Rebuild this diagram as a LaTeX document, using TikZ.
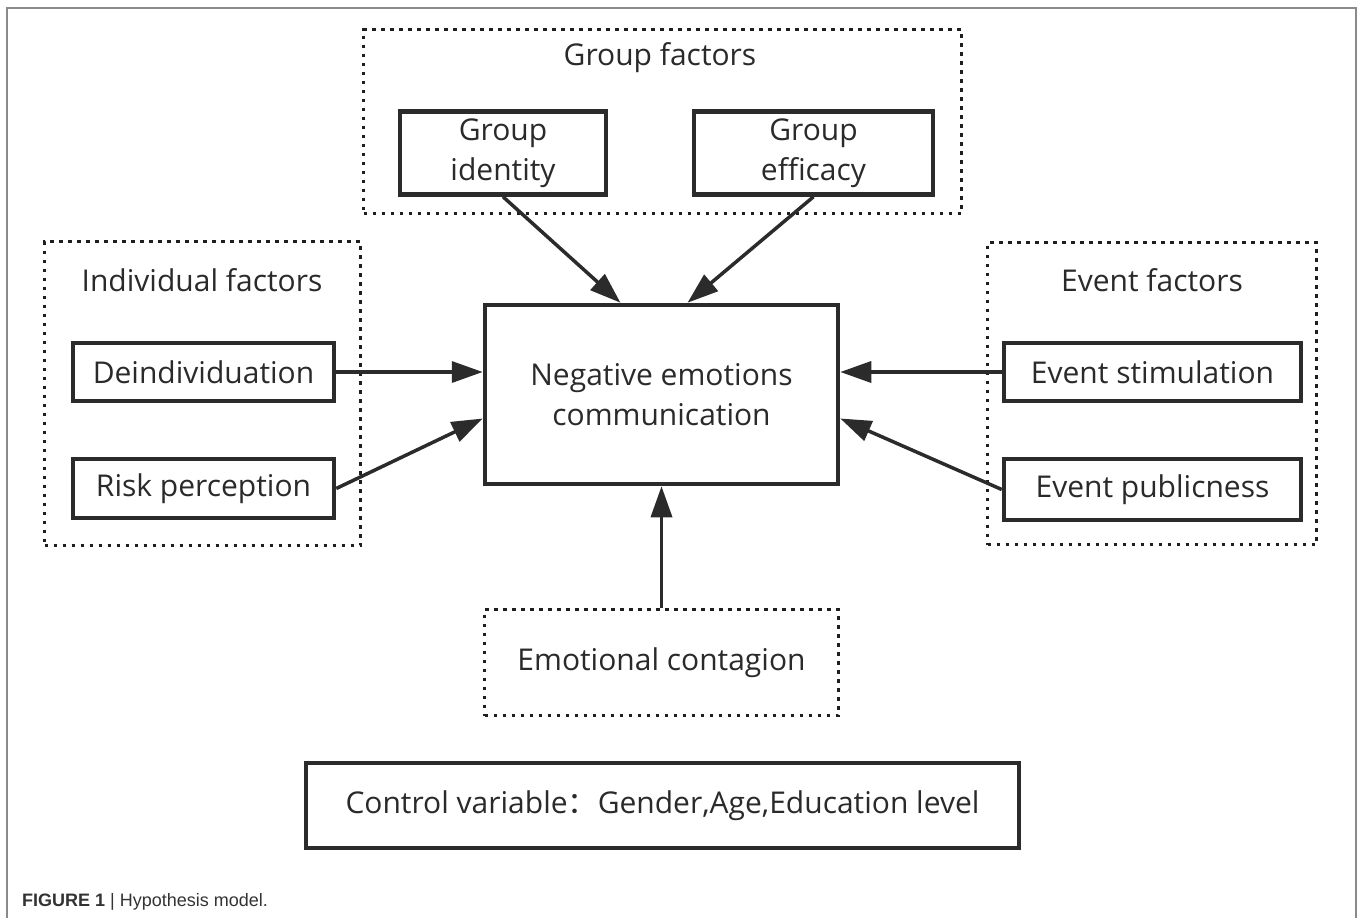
\documentclass[tikz,border=0pt]{standalone}
\usepackage{fontspec}
\setmainfont{Open Sans}
\newfontfamily\cjk{Noto Sans CJK SC}
\newfontfamily\capfont{Liberation Sans}
\usepackage{tikz}
\usetikzlibrary{arrows.meta}
\definecolor{cline}{HTML}{2B2B2B}
\definecolor{cdot}{HTML}{1E1E1E}
\definecolor{ctext}{HTML}{2A2A2A}
\definecolor{cframe}{HTML}{8A8A8A}
\definecolor{ccap}{HTML}{333333}

\begin{document}
\begin{tikzpicture}[x=1pt,y=-1pt,>={Triangle[length=31pt,width=21pt]},
  font=\fontsize{30}{40}\selectfont,text=ctext,
  main node/.style={draw=cline,line width=4.5pt,align=center,inner sep=0pt},
  group node/.style={draw=cdot,line width=3.5pt,dash pattern=on 3.5pt off 5.5pt,inner sep=0pt},
  title node/.style={inner sep=0pt}]
  \useasboundingbox (0,0) rectangle (1358,918);
  \draw[cframe,line width=1.5pt] (7,918) -- (7,8) -- (1356,8) -- (1356,918);

  % dotted groups
  \node[group node,minimum width=598pt,minimum height=184pt] (gfac) at (662.5,121.5) {};
  \node[group node,minimum width=316pt,minimum height=304pt] (ifac) at (202.5,393.5) {};
  \node[group node,minimum width=329pt,minimum height=302pt] (efac) at (1152,393.5) {};
  \node[group node,minimum width=354pt,minimum height=106pt] (contagion) at (661.5,662.5) {Emotional contagion};
  \node[title node] (gtitle) at (660,58) {Group factors};
  \node[title node] (ititle) at (202,280) {Individual factors};
  \node[title node] (etitle) at (1152,280) {Event factors};

  % factor boxes
  \node[main node,minimum width=206pt,minimum height=83pt] (identity) at (503,153) {Group\\identity};
  \node[main node,minimum width=239pt,minimum height=83pt] (efficacy) at (813.5,153) {Group\\efficacy};
  \node[main node,minimum width=261pt,minimum height=58pt] (deind) at (203.5,372) {Deindividuation};
  \node[main node,minimum width=261pt,minimum height=59pt] (risk) at (203.5,488.5) {Risk perception};
  \node[main node,minimum width=297pt,minimum height=58pt] (stim) at (1152.5,372) {Event stimulation};
  \node[main node,minimum width=297pt,minimum height=61pt] (publ) at (1152.5,489.5) {Event publicness};
  \node[main node,minimum width=353pt,minimum height=179pt] (neg) at (661.5,394.5) {Negative emotions\\communication};
  \node[main node,minimum width=713pt,minimum height=85pt] (control) at (662.5,805.5)
    {Control variable{\cjk ：}Gender,Age,Education level};

  \path[every edge/.style={draw=cline,line width=3.5pt,->}]
    (identity.south) edge ([xshift=-41pt]neg.north)
    (efficacy.south) edge ([xshift=26pt]neg.north)
    (deind.east) edge (deind -| neg.west)
    (risk.east) edge ([yshift=-24pt]neg.west)
    (stim.west) edge (stim -| neg.east)
    (publ.west) edge ([yshift=-24pt]neg.east)
    (contagion.north) edge (neg.south);

  \node[anchor=base west,inner sep=0pt,text=ccap,font=\capfont\fontsize{18}{22}\selectfont] (caption) at (22,906)
    {\textbf{FIGURE 1} | Hypothesis model.};
\end{tikzpicture}
\end{document}
